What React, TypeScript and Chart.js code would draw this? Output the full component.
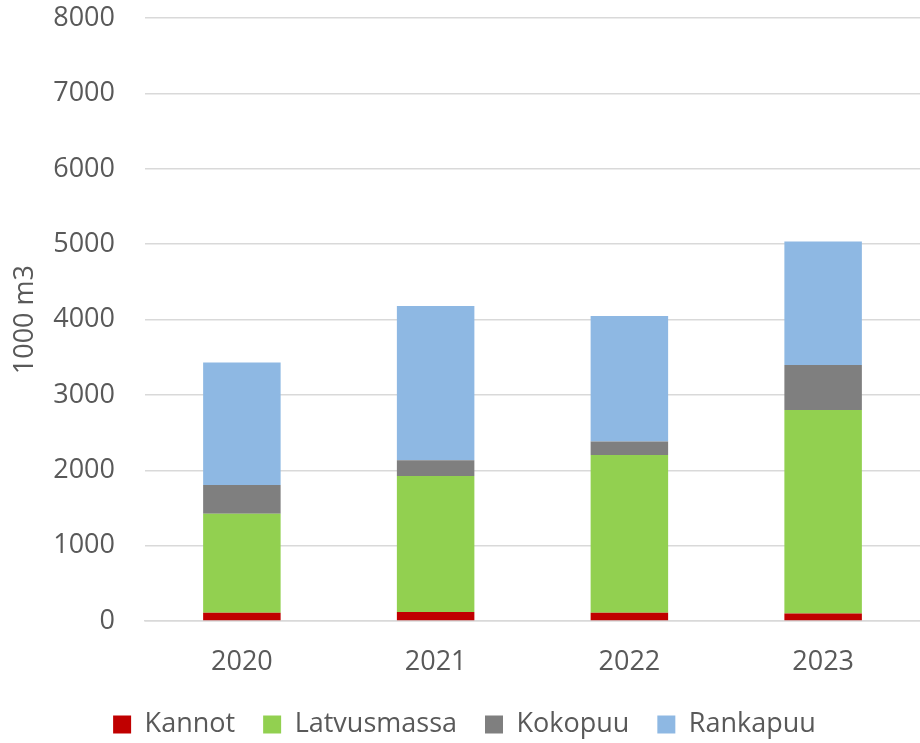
import React, { useEffect, useRef } from "react";
import { Chart, registerables } from "chart.js";

Chart.register(...registerables);

const categories = ["2020", "2021", "2022", "2023"];
const kannot = [110, 120, 110, 100];
const latvusmassa = [1315, 1805, 2094, 2701];
const kokopuu = [380, 208, 177, 597];
const rankapuu = [1624, 2048, 1668, 1637];
const yTicks = [0, 1000, 2000, 3000, 4000, 5000, 6000, 7000, 8000];

const FONT = "'Open Sans', sans-serif";
const TEXT = "#595959";

export default function App() {
  const ref = useRef<HTMLCanvasElement | null>(null);
  useEffect(() => {
    if (!ref.current) return;
    const chart = new Chart(ref.current, {
      type: "bar",
      data: {
        labels: categories,
        datasets: [
          { label: "Kannot", data: kannot, backgroundColor: "#c00000" },
          { label: "Latvusmassa", data: latvusmassa, backgroundColor: "#92d050" },
          { label: "Kokopuu", data: kokopuu, backgroundColor: "#7f7f7f" },
          { label: "Rankapuu", data: rankapuu, backgroundColor: "#8eb8e3" },
        ],
      },
      options: {
        animation: false,
        responsive: false,
        maintainAspectRatio: false,
        layout: { padding: { top: 0, right: 0, left: 9, bottom: -5 } },
        datasets: { bar: { categoryPercentage: 1, barPercentage: 0.4 } },
        plugins: {
          tooltip: { enabled: false },
          legend: {
            position: "bottom",
            labels: {
              color: TEXT,
              font: { family: FONT, size: 27 },
              boxWidth: 18,
              boxHeight: 18,
              padding: 28,
            },
          },
        },
        scales: {
          x: {
            stacked: true,
            grid: { display: false, drawTicks: false },
            border: { color: "#d9d9d9", width: 1.5 },
            ticks: { color: TEXT, font: { family: FONT, size: 27 }, padding: 25, maxRotation: 0 },
            afterFit: (axis: any) => {
              axis.height = 62;
            },
          },
          y: {
            stacked: true,
            min: 0,
            max: 8000,
            afterBuildTicks: (axis: any) => {
              axis.ticks = yTicks.map((v) => ({ value: v }));
            },
            afterFit: (axis: any) => {
              axis.width = 136;
            },
            grid: {
              color: "#d9d9d9",
              lineWidth: 1.5,
              drawTicks: true,
              tickLength: 28,
              tickColor: "rgba(0,0,0,0)",
            },
            border: { display: false },
            ticks: {
              color: TEXT,
              font: { family: FONT, size: 27 },
              padding: 2,
              callback: (v: any) => String(v),
            },
            title: {
              display: true,
              text: "1000 m3",
              color: TEXT,
              font: { family: FONT, size: 27 },
              padding: 0,
            },
          },
        },
      },
    });
    return () => chart.destroy();
  }, []);
  return (
    <div style={{ position: "fixed", left: 0, top: 0, width: 920, height: 743, background: "#fff" }}>
      <canvas ref={ref} width={920} height={743} />
    </div>
  );
}
